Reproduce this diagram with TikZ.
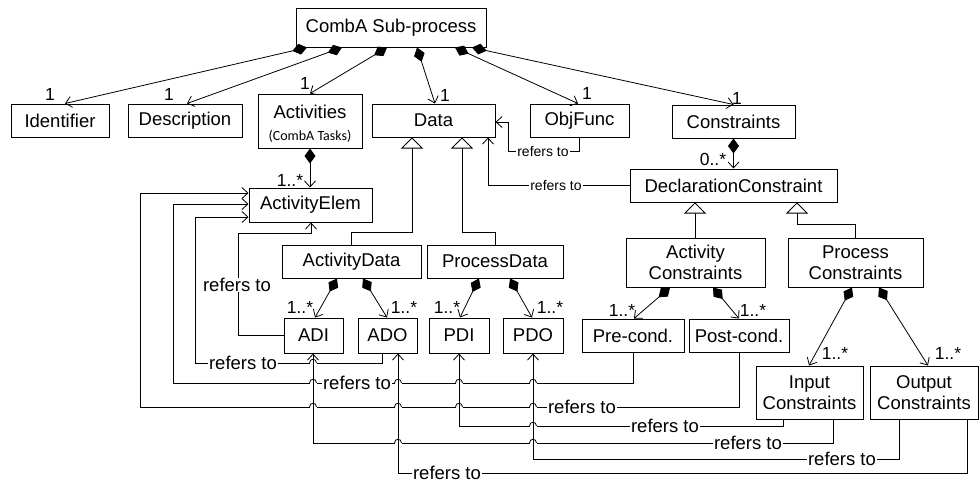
\documentclass[tikz,border=0pt]{standalone}
\usepackage{fontspec}
\setmainfont{Liberation Sans}
\newfontfamily\calfont{Carlito}
\usetikzlibrary{arrows.meta,calc}

% small bridge where a horizontal connector jumps over a vertical one
\newcommand\hophere[2]{%
  \fill[white] ({#1-3.5},{#2-1.2}) rectangle ({#1+3.5},{#2+1.2});
  \draw[conn] (#1,{#2-4}) -- (#1,{#2+4});
  \draw[conn] ({#1-3.5},#2) .. controls ({#1-3.5},{#2-5}) and ({#1+3.5},{#2-5}) .. ({#1+3.5},#2);
}

\begin{document}
\begin{tikzpicture}[x=1pt,y=-1pt,
  box/.style={draw, line width=1pt, rectangle, inner sep=0pt, align=center,
              font=\fontsize{18.5}{21}\selectfont},
  conn/.style={line width=0.8pt},
  comp/.style={conn, {Diamond[length=15pt,width=11pt,fill=black]}-{Straight Barb[length=6pt,width=11pt]}},
  gen/.style={conn, {Triangle[length=11pt,width=22pt,fill=white]}-},
  ref/.style={conn, -{Straight Barb[length=6pt,width=11pt]}},
  mult/.style={font=\fontsize{17.5}{20}\selectfont, inner sep=0pt},
  biglbl/.style={fill=white, inner xsep=1pt, inner ysep=0.5pt, text depth=0pt,
                 font=\fontsize{18.5}{21}\selectfont},
  smalllbl/.style={fill=white, inner xsep=1pt, inner ysep=0.5pt, text depth=0pt,
                   font=\fontsize{14}{16}\selectfont},
]
\useasboundingbox (0,0) rectangle (980,483);

% ---- classes ----
\node[box, minimum width=190pt, minimum height=39pt] (top)   at (391,27.5)  {CombA Sub-process};
\node[box, minimum width=98pt,  minimum height=33pt] (ident) at (60,120.5)  {Identifier};
\node[box, minimum width=114pt, minimum height=33pt] (desc)  at (185,120.5) {Description};
\node[box, minimum width=104pt, minimum height=54pt] (acts)  at (310,121) {};
\node[font=\fontsize{18.5}{21}\selectfont, inner sep=0pt] (actsname) at (310,112) {Activities};
\node[font=\calfont\fontsize{14}{16}\selectfont, inner sep=0pt] (actsnote) at (310,136) {(CombA Tasks)};
\node[box, minimum width=123pt, minimum height=33pt] (data)  at (433.5,120.5) {Data};
\node[box, minimum width=99pt,  minimum height=33pt] (objf)  at (579.5,120.5) {ObjFunc};
\node[box, minimum width=123pt, minimum height=33pt] (cons)  at (733.5,121.5) {Constraints};
\node[box, minimum width=207pt, minimum height=33pt] (dc)    at (733.5,185.5) {DeclarationConstraint};
\node[box, minimum width=123pt, minimum height=34pt] (aelem) at (310.5,205)   {ActivityElem};
\node[box, minimum width=139pt, minimum height=33pt] (adata) at (351.5,261.5) {ActivityData};
\node[box, minimum width=136pt, minimum height=33pt] (pdata) at (495,261.5)   {ProcessData};
\node[box, minimum width=59pt,  minimum height=35pt] (adi)   at (313.5,335.5) {ADI};
\node[box, minimum width=59pt,  minimum height=35pt] (ado)   at (387.5,335.5) {ADO};
\node[box, minimum width=60pt,  minimum height=35pt] (pdi)   at (459,335.5)   {PDI};
\node[box, minimum width=60pt,  minimum height=35pt] (pdo)   at (533,335.5)   {PDO};
\node[box, minimum width=139pt, minimum height=49pt] (acons) at (695.5,262.5) {Activity\\Constraints};
\node[box, minimum width=135pt, minimum height=49pt] (pcons) at (855.5,262.5) {Process\\Constraints};
\node[box, minimum width=102pt, minimum height=33pt] (pre)   at (633,335.5)   {Pre-cond.};
\node[box, minimum width=100pt, minimum height=33pt] (post)  at (739,335.5)   {Post-cond.};
\node[box, minimum width=107pt, minimum height=53pt] (inc)   at (809.5,392.5) {Input\\Constraints};
\node[box, minimum width=108pt, minimum height=53pt] (outc)  at (924,392.5)   {Output\\Constraints};

% ---- compositions of the sub-process ----
\draw[comp] (307,0 |- top.south) -- (65,0 |- ident.north);
\draw[comp] (342,0 |- top.south) -- (187,0 |- desc.north);
\draw[comp] (387,0 |- top.south) -- (acts.north);
\draw[comp] (417,0 |- top.south) -- (435,0 |- data.north);
\draw[comp] (455,0 |- top.south) -- (578,0 |- objf.north);
\draw[comp] (472,0 |- top.south) -- (cons.north);
\node[mult] at (50,94)  {1};
\node[mult] at (169,94) {1};
\node[mult] at (305,83) {1};
\node[mult] at (445,95) {1};
\node[mult] at (587,93) {1};
\node[mult] at (737,98) {1};

\draw[comp] (acts.south) -- (acts.south |- aelem.north);
\node[mult] at (290,180) {1..*};
\draw[comp] (cons.south) -- (cons.south |- dc.north);
\node[mult] at (713,159) {0..*};

% ---- generalizations ----
\draw[gen] (412,0 |- data.south) -- (412,232) -| (adata.north);
\draw[gen] (462,0 |- data.south) -- (462,232) -| (pdata.north);
\draw[gen] (695,0 |- dc.south) -- (695,0 |- acons.north);
\draw[gen] (797,0 |- dc.south) -- (797,224) -| (pcons.north);

% ---- data parts ----
\draw[comp] (337,0 |- adata.south) -- (315,0 |- adi.north);
\draw[comp] (363,0 |- adata.south) -- (387,0 |- ado.north);
\draw[comp] (479,0 |- pdata.south) -- (460,0 |- pdi.north);
\draw[comp] (510,0 |- pdata.south) -- (532,0 |- pdo.north);
\node[mult] at (300,307) {1..*};
\node[mult] at (404,307) {1..*};
\node[mult] at (447,307) {1..*};
\node[mult] at (550,307) {1..*};

% ---- constraint parts ----
\draw[comp] (670,0 |- acons.south) -- (634,0 |- pre.north);
\draw[comp] (713,0 |- acons.south) -- (739,0 |- post.north);
\draw[comp] (852,0 |- pcons.south) -- (809,0 |- inc.north);
\draw[comp] (879,0 |- pcons.south) -- (928,0 |- outc.north);
\node[mult] at (622,310) {1..*};
\node[mult] at (753,310) {1..*};
\node[mult] at (835,353) {1..*};
\node[mult] at (948,353) {1..*};

% ---- references ----
\draw[ref] (objf.south) |- (508,151) |- (data.east |- 0,122)
  node[smalllbl] at (543,151) {refers to};
\draw[ref] (dc.west) -| (488,0 |- data.south)
  node[smalllbl] at (556,185) {refers to};

\draw[ref] (adi.west) -| (238,233) -| (311,0 |- aelem.south)
  node[biglbl] at (237,285) {refers to};
\draw[ref] (382,0 |- ado.south) |- (195,363) |- (aelem.west |- 0,217)
  node[biglbl] at (243,363) {refers to};
\draw[ref] (pre.south) |- (173,383) |- (aelem.west |- 0,204)
  node[biglbl] at (357,383) {refers to};
\draw[ref] (post.south) |- (140,407) |- (aelem.west |- 0,193)
  node[biglbl] at (582,407) {refers to};

\draw[ref] (783,0 |- inc.south) |- (459,426) -- (pdi.south)
  node[biglbl] at (665,426) {refers to};
\draw[ref] (833,0 |- inc.south) |- (313,443) -- (313,0 |- adi.south)
  node[biglbl] at (748,443) {refers to};
\draw[ref] (899,0 |- outc.south) |- (533,459) -- (pdo.south)
  node[biglbl] at (842,459) {refers to};
\draw[ref] (967,0 |- outc.south) |- (398,473) -- (398,0 |- ado.south)
  node[biglbl] at (447,473) {refers to};

% ---- line jumps ----
\hophere{313}{363}
\hophere{313}{383}\hophere{398}{383}\hophere{459}{383}\hophere{533}{383}
\hophere{313}{407}\hophere{398}{407}\hophere{459}{407}\hophere{533}{407}
\hophere{533}{426}
\hophere{398}{443}\hophere{533}{443}
\end{tikzpicture}
\end{document}
